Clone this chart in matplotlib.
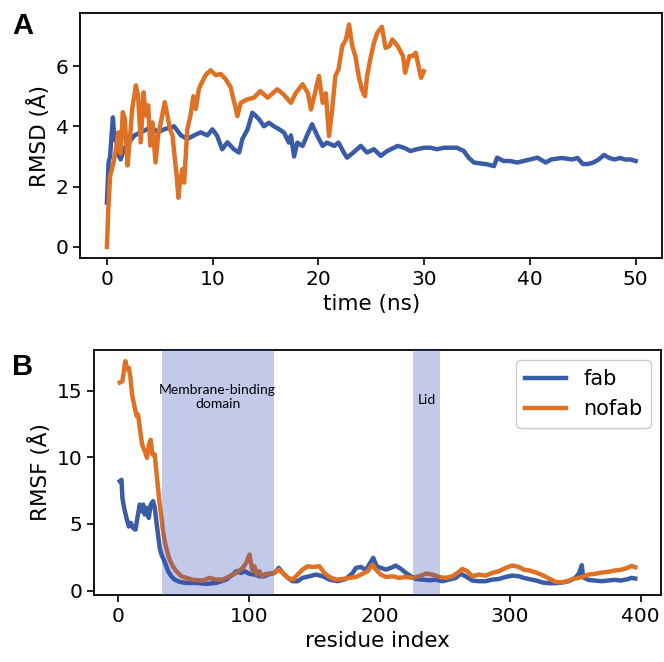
import matplotlib
matplotlib.use("Agg")
import matplotlib.pyplot as plt

# ---------------- Panel A: RMSD vs time ----------------
time_fab = [0, 0.16, 0.3, 0.44, 0.57, 0.7, 0.94, 1.16, 1.3, 1.6, 2.1, 2.6, 3.2, 3.8, 4.15,
            4.8, 5.4, 6.35, 7.0, 7.6, 8.24, 8.87, 9.5, 9.97, 10.4, 10.9, 11.4, 12.0, 12.5,
            12.8, 13.3, 13.75, 14.1, 14.4, 14.85, 15.3, 15.8, 16.3, 16.75, 17.2, 17.4, 17.7,
            18.0, 18.5, 18.9, 19.4, 19.9, 20.4, 20.8, 21.5, 21.9, 22.4, 22.7, 23.3, 24.0,
            24.6, 25.25, 25.9, 26.5, 27.5, 28.1, 28.7, 29.3, 30.0, 30.6, 31.2, 31.9, 32.5,
            33.1, 33.75, 34.2, 34.7, 35.3, 35.95, 36.6, 36.9, 37.5, 38.1, 38.8, 39.4, 40.0,
            40.7, 41.5, 42.0, 43.0, 44.0, 44.5, 45.0, 45.5, 46.0, 46.5, 47.0, 47.5, 48.0,
            48.5, 49.0, 49.5, 50.0]
rmsd_fab = [1.47, 2.8, 3.0, 3.7, 4.3, 3.58, 3.47, 3.0, 2.9, 3.24, 3.47, 3.7, 3.8, 3.9, 4.0,
            3.8, 3.9, 4.0, 3.7, 3.58, 3.7, 3.8, 3.7, 3.9, 3.7, 3.24, 3.47, 3.24, 3.13,
            3.57, 3.9, 4.45, 4.34, 4.23, 4.0, 4.12, 4.0, 3.9, 3.79, 3.46, 3.7, 3.0,
            3.46, 3.35, 3.68, 4.07, 3.68, 3.35, 3.46, 3.35, 3.46, 3.13, 2.96, 3.13, 3.35,
            3.13, 3.24, 3.02, 3.18, 3.35, 3.29, 3.18, 3.24, 3.29, 3.29, 3.24, 3.29, 3.29,
            3.29, 3.18, 2.96, 2.8, 2.77, 2.74, 2.68, 2.96, 2.85, 2.85, 2.8, 2.85, 2.9,
            2.96, 2.8, 2.9, 2.95, 2.9, 2.95, 2.75, 2.75, 2.8, 2.9, 3.05, 2.95, 2.9,
            2.95, 2.9, 2.9, 2.85]

time_nofab = [0, 0.13, 0.3, 0.63, 0.85, 1.07, 1.3, 1.5, 1.7, 1.95, 2.2, 2.4, 2.74, 2.95,
              3.2, 3.46, 3.68, 3.9, 4.1, 4.3, 4.6, 4.84, 5.1, 5.47, 5.72, 5.97, 6.2, 6.4,
              6.6, 6.76, 6.9, 7.14, 7.3, 7.45, 7.6, 7.9, 8.18, 8.4, 8.7, 9.0, 9.34, 9.8,
              10.3, 10.75, 11.2, 11.7, 12.2, 12.34, 12.65, 13.3, 13.9, 14.5, 15.2, 16.1,
              16.7, 17.4, 17.85, 18.5, 19.0, 19.3, 19.6, 20.05, 20.4, 20.7, 21.0, 21.3,
              21.6, 21.9, 22.25, 22.6, 22.9, 23.2, 23.5, 23.8, 24.1, 24.4, 24.6, 24.9,
              25.25, 25.56, 26.0, 26.35, 26.7, 27.0, 27.5, 28.0, 28.2, 28.6, 28.9, 29.2,
              29.5, 29.7, 29.97]
rmsd_nofab = [0, 1.24, 2.35, 2.8, 3.24, 3.8, 3.1, 4.47, 4.24, 2.7, 3.7, 4.6, 5.36, 5.0,
              3.47, 5.13, 4.36, 4.7, 3.36, 4.13, 2.8, 3.69, 4.13, 4.8, 4.36, 3.9, 3.7, 3.0,
              2.36, 1.63, 2.13, 2.58, 2.13, 3.0, 3.9, 4.36, 5.0, 4.58, 5.24, 5.47, 5.7, 5.86,
              5.7, 5.74, 5.58, 5.3, 4.56, 4.34, 4.78, 4.9, 4.95, 5.17, 4.95, 5.23,
              5.06, 4.78, 5.1, 5.4, 5.1, 4.56, 5.0, 5.67, 4.78, 5.1, 3.68, 4.56,
              5.67, 5.89, 6.66, 6.88, 7.38, 6.66, 6.33, 5.67, 5.23, 5.0, 5.67, 6.22,
              6.77, 7.1, 7.3, 6.6, 6.66, 6.88, 6.66, 6.33, 5.78, 6.33, 6.33, 6.44,
              5.94, 5.61, 5.83]

# ---------------- Panel B: RMSF vs residue ----------------
res_fab = [1, 2.3, 3, 4.3, 6.1, 7.9, 9.4, 11.2, 13, 14.5, 16.3, 17.6, 18.9, 20.1, 21.4, 23.2,
           24.7, 26.5, 27.8, 29, 30.3, 31.6, 32.9, 34.1, 36.2, 38, 40.5, 43, 46.9, 52, 59.6,
           67.3, 74.9, 82.5, 87.6, 90.2, 94, 96.6, 100.4, 104.2, 108, 111.8, 115.7, 119.5,
           122.8, 125.9, 129.7, 133.5, 137.3, 141, 146.3, 151.4, 156.5, 161.6, 168, 174.3,
           179.4, 182, 185.8, 189.6, 192.1, 195.2, 197.8, 201, 204.9, 208.7, 212.5, 216.4,
           220.2, 224, 227.8, 232.9, 238, 243.1, 248.2, 253.3, 258.4, 262.2, 266, 271.1,
           276.2, 281.3, 286.4, 291.5, 296.6, 301.7, 306.8, 310.6, 315, 320, 325, 330, 335,
           340, 345, 350, 353, 355, 356, 360, 365, 370, 375, 380, 385, 390, 393, 396]
rmsf_fab = [8.2, 8.3, 6.95, 6.2, 5.45, 4.8, 5.07, 4.7, 4.57, 5.45, 6.45, 5.95, 6.45, 5.7, 6.2,
            5.45, 6.45, 6.7, 6.2, 5.2, 4.2, 3.2, 2.7, 2.45, 1.95, 1.45, 1.07, 0.82, 0.65, 0.57,
            0.57, 0.5, 0.57, 0.82, 1.2, 1.45, 1.32, 1.45, 1.25, 1.2, 1.07, 1.07, 1.25, 1.32,
            1.7, 1.32, 0.95, 0.7, 0.7, 0.95, 1.07, 1.2, 1.07, 0.82, 0.7, 0.87,
            1.32, 1.7, 1.77, 1.52, 1.95, 2.45, 1.82, 1.7, 1.57, 1.7, 1.87, 1.62,
            1.32, 1.07, 0.87, 0.82, 0.77, 0.82, 0.7, 0.82, 0.95, 1.25, 1.07, 0.75,
            0.7, 0.7, 0.82, 0.87, 1.02, 1.12, 1.07, 0.95, 0.85, 0.75, 0.6, 0.55, 0.55,
            0.6, 0.7, 0.95, 1.3, 1.9, 1.0, 0.8, 0.75, 0.7, 0.75, 0.8, 0.75, 0.85, 0.95, 0.9]

res_nofab = [1, 3, 4.3, 5.3, 6.6, 7.9, 9.2, 10.4, 12.5, 13.8, 15.0, 16.3, 18.1, 20.1, 21.9,
             23.4, 24.7, 26.0, 27.8, 29.0, 30.3, 31.6, 32.9, 34.1, 35.4, 37.2, 39.2, 41.8,
             44.3, 48.2, 52, 57, 64.7, 69.8, 74.9, 80, 85, 90.2, 95.3, 97.8, 100.4, 101.7,
             102.9, 104.2, 106, 108, 110, 113, 117, 119.5, 122.8, 125.9, 129.7, 133.5, 136,
             141, 145, 148.8, 154, 157.7, 161.6, 166.7, 171.8, 176.9, 182, 185.8, 190.9,
             194.7, 197.2, 201, 204.9, 210, 215, 220.2, 225.3, 230.4, 235.5, 240.6, 245.6,
             250.7, 255.8, 259.7, 263.5, 267.3, 271.1, 276.2, 281.3, 286.4, 291.5, 296.6,
             301.7, 306.8, 310.6, 315, 320, 325, 330, 335, 340, 345, 350, 355, 360, 365,
             370, 375, 380, 385, 390, 393, 396]
rmsf_nofab = [15.6, 15.7, 16.6, 17.2, 16.6, 16.7, 15.95, 14.7, 13.7, 13.1, 13.2, 12.2, 10.95,
              10.45, 9.95, 10.95, 11.3, 10.2, 10.2, 8.95, 7.7, 6.45, 5.45, 4.45, 3.7, 2.95,
              2.3, 1.8, 1.45, 1.07, 0.95, 0.8, 0.75, 0.95, 0.82, 0.82, 1.07, 1.32, 1.7, 2.07,
              2.7, 1.95, 1.45, 1.82, 1.2, 1.45, 1.07, 1.25, 1.25, 1.32, 1.57, 1.32, 0.95,
              0.82, 1.07, 1.57, 1.82, 1.77, 1.82, 1.32, 1.02, 0.82, 0.87, 0.95, 1.02, 1.2,
              1.45, 1.95, 1.57, 1.2, 1.02, 1.07, 0.95, 1.02, 0.95, 1.07, 1.27, 1.2, 1.02,
              0.95, 1.07, 1.32, 1.62, 1.45, 1.07, 1.2, 1.12, 1.32, 1.45, 1.7,
              1.87, 1.77, 1.57, 1.5, 1.35, 1.15, 0.9, 0.65, 0.6, 0.75, 0.9, 1.0, 1.2, 1.25,
              1.35, 1.4, 1.5, 1.55, 1.7, 1.85, 1.75]

regions = [(33, 119, "Membrane-binding\ndomain", 76, 14.5), (226, 246, "Lid", 236, 14.3)]

series_labels = ["fab", "nofab"]
C_FAB = "#3a5ba6"
C_NOFAB = "#de7124"
LW = 3.2

plt.rcParams['font.family'] = ['DejaVu Sans']
fig = plt.figure(figsize=(6.64, 6.62), dpi=100)

axA = fig.add_axes([0.1212, 0.6103, 0.876, 0.3695])
axA.plot(time_fab, rmsd_fab, color=C_FAB, lw=LW, label=series_labels[0])
axA.plot(time_nofab, rmsd_nofab, color=C_NOFAB, lw=LW, label=series_labels[1])
axA.set_xlabel("time (ns)", fontsize=15.5)
axA.set_ylabel("RMSD (Å)", fontsize=15.5)
axA.set_xticks([0, 10, 20, 30, 40, 50])
axA.set_yticks([0, 2, 4, 6])
axA.tick_params(labelsize=14.5, width=1.2, length=5)

axB = fig.add_axes([0.1416, 0.1012, 0.854, 0.370])
axB.plot(res_fab, rmsf_fab, color=C_FAB, lw=LW, label=series_labels[0])
axB.plot(res_nofab, rmsf_nofab, color=C_NOFAB, lw=LW, label=series_labels[1])
for (x0, x1, txt, xc, yc) in regions:
    axB.axvspan(x0, x1, color="#384db8", alpha=0.3, lw=0, zorder=3)
    axB.text(xc, yc, txt, ha="center", va="center", fontsize=10,
             family=["Lato", "DejaVu Sans"], zorder=4, linespacing=1.25)
axB.set_xlabel("residue index", fontsize=15.5)
axB.set_ylabel("RMSF (Å)", fontsize=15.5)
axB.set_xticks([0, 100, 200, 300, 400])
axB.set_yticks([0, 5, 10, 15])
axB.tick_params(labelsize=14.5, width=1.2, length=5)
axB.legend(loc="upper right", fontsize=15, framealpha=1, edgecolor="#cccccc")

for ax in (axA, axB):
    for s in ax.spines.values():
        s.set_linewidth(1.3)

fig.text(0.018, 0.982, "A", fontsize=21, fontweight="bold", va="top", ha="left",
         family=["Liberation Sans", "DejaVu Sans"])
fig.text(0.018, 0.467, "B", fontsize=21, fontweight="bold", va="top", ha="left",
         family=["Liberation Sans", "DejaVu Sans"])

fig.savefig("out.png", dpi=100)
